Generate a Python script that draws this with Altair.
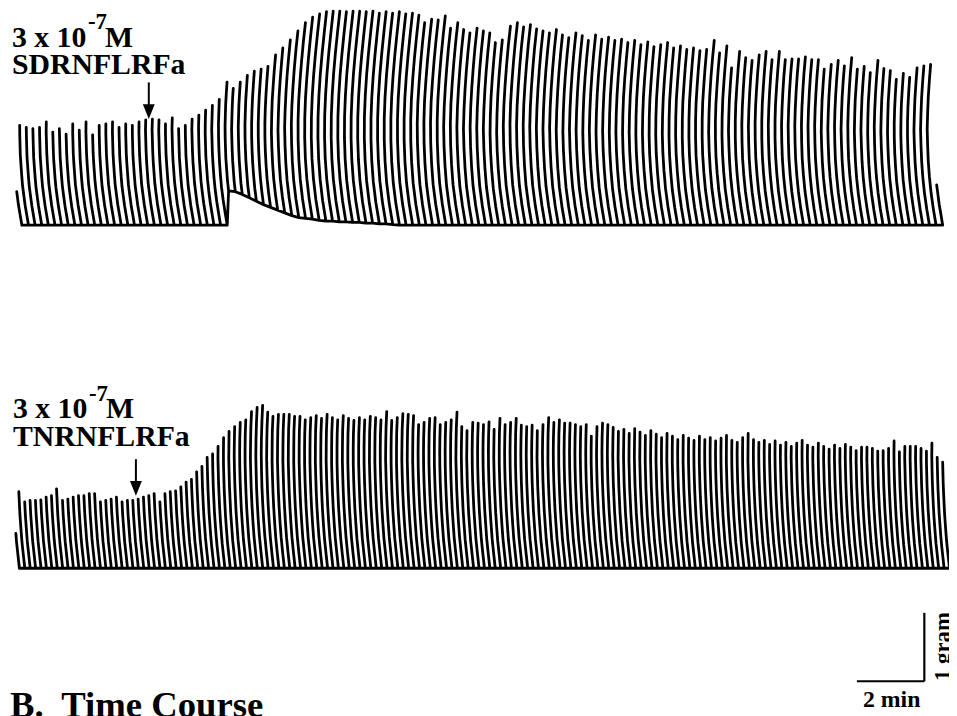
import numpy as np
import pandas as pd
import altair as alt

# ---------------- layout constants ----------------
W, H = 949, 708            # canvas (plot area) size in px
PX_PER_MIN = 34.0          # chart speed: 2 min = 68 px
PX_PER_G = 69.0            # 1 gram = 69 px
TOP_LEVEL = 7.13           # vertical placement of the upper trace (g from bottom)
BOT_LEVEL = 2.116          # vertical placement of the lower trace

# ---------------- data ----------------
# Upper trace: SDRNFLRFa, peak tension of every beat (g above resting baseline)
top_peak_g = [
    0.49, 1.46, 1.43, 1.41, 1.43, 1.51, 1.36, 1.41, 1.33, 1.48,
    1.39, 1.51, 1.32, 1.46, 1.48, 1.51, 1.43, 1.48, 1.46, 1.51,
    1.54, 1.55, 1.54, 1.48, 1.57, 1.41, 1.46, 1.55, 1.61, 1.68,
    1.75, 1.84, 2.09, 2.00, 2.09, 2.19, 2.25, 2.28, 2.32, 2.49,
    2.59, 2.71, 2.84, 2.96, 3.04, 3.09, 3.12, 3.13, 3.13, 3.12,
    3.13, 3.13, 3.12, 3.13, 3.10, 3.12, 3.10, 3.12, 3.09, 3.10,
    3.07, 2.96, 3.01, 3.00, 3.06, 2.88, 2.96, 2.86, 2.81, 2.88,
    2.84, 2.81, 2.67, 2.71, 2.91, 2.96, 2.90, 2.93, 2.87, 2.84,
    2.81, 2.86, 2.78, 2.74, 2.81, 2.77, 2.70, 2.78, 2.72, 2.75,
    2.70, 2.72, 2.67, 2.70, 2.64, 2.68, 2.61, 2.64, 2.67, 2.59,
    2.62, 2.57, 2.59, 2.55, 2.57, 2.70, 2.52, 2.62, 2.30, 2.54,
    2.45, 2.41, 2.49, 2.54, 2.42, 2.54, 2.42, 2.43, 2.43, 2.46,
    2.42, 2.42, 2.28, 2.35, 2.41, 2.33, 2.45, 2.28, 2.32, 2.23,
    2.41, 2.29, 2.26, 2.13, 2.22, 2.16, 2.30, 2.33, 2.35, 0.59,
]
# Upper trace: diastolic (baseline) tension of every beat
top_base_g = ([0.0] * 32 +
              [0.50, 0.49, 0.45, 0.40, 0.35, 0.30, 0.26, 0.22, 0.18, 0.14,
               0.11, 0.10, 0.09, 0.07, 0.06, 0.06, 0.05, 0.05, 0.04, 0.04,
               0.03, 0.03, 0.02, 0.02, 0.01] +
              [0.0] * 83)
top_first_min, top_period_min = 0.147, 0.1965

# Lower trace: TNRNFLRFa
bot_peak_g = [
    0.51, 1.12, 0.97, 0.99, 0.99, 1.00, 1.04, 1.06, 1.16, 0.99,
    1.01, 1.04, 1.06, 1.06, 1.09, 1.09, 0.97, 0.99, 1.01, 1.04,
    0.97, 0.99, 0.99, 1.01, 1.04, 1.06, 1.09, 0.97, 1.09, 1.12,
    1.13, 1.19, 1.26, 1.30, 1.41, 1.49, 1.62, 1.67, 1.78, 1.91,
    2.00, 2.07, 2.13, 2.17, 2.29, 2.35, 2.38, 2.28, 2.22, 2.25,
    2.25, 2.25, 2.22, 2.22, 2.17, 2.20, 2.23, 2.19, 2.25, 2.20,
    2.17, 2.23, 2.19, 2.16, 2.20, 2.17, 2.22, 2.20, 2.17, 2.29,
    2.16, 2.20, 2.26, 2.25, 2.23, 2.10, 2.13, 2.19, 2.20, 2.10,
    2.13, 2.17, 2.28, 2.07, 2.01, 2.13, 2.12, 2.10, 2.14, 2.03,
    2.19, 2.10, 2.13, 2.19, 2.09, 2.07, 2.09, 2.01, 2.10, 2.20,
    2.13, 2.17, 2.12, 2.12, 2.10, 2.07, 2.10, 1.93, 2.07, 2.12,
    2.10, 2.06, 2.00, 2.03, 1.97, 2.04, 1.99, 1.94, 2.01, 1.96,
    1.91, 1.97, 1.93, 1.88, 1.94, 1.90, 1.87, 1.93, 1.88, 1.91,
    1.86, 1.90, 1.94, 1.87, 1.84, 1.91, 1.97, 1.88, 1.84, 1.87,
    1.81, 1.86, 1.80, 1.84, 1.78, 1.83, 1.87, 1.80, 1.77, 1.83,
    1.78, 1.74, 1.80, 1.75, 1.81, 1.77, 1.72, 1.77, 1.77, 1.75,
    1.71, 1.72, 1.75, 1.86, 1.70, 1.78, 1.78, 1.78, 1.75, 1.71,
    1.83, 1.62, 1.55,
]
bot_base_g = [0.0] * len(bot_peak_g)
bot_first_min, bot_period_min = 0.132, 0.1604

# pen arc of the recorder (height above rest, g -> sideways offset, px)
top_arc_h = [0.0, 0.3, 0.6, 1.0, 1.4, 1.8, 2.2, 2.6, 3.2]
top_arc_px = [9.0, 5.5, 2.8, 0.8, 0.0, 0.8, 2.6, 5.0, 9.5]
bot_arc_h = [0.0, 0.4, 0.8, 1.2, 1.6, 2.0, 2.4]
bot_arc_px = [7.0, 4.0, 2.0, 0.7, 0.0, 0.3, 1.5]

# drug application (arrow) times, min
top_drug_min = 4.176
bot_drug_min = 3.794


def build(name, t0, dt, peaks, bases, arc_h, arc_px, level):
    rows = []
    k = 0
    for i, (p, b) in enumerate(zip(peaks, bases)):
        t = t0 + dt * i
        hs = np.linspace(b, p, 11)
        offs = np.interp(hs, arc_h, arc_px) / PX_PER_MIN
        pts = list(zip(hs, offs))
        path = pts + pts[::-1][1:]
        for h, o in path:
            rows.append({"trace": name, "k": k, "t": t + o, "g": level + h})
            k += 1
    return rows


rows = build("SDRNFLRFa", top_first_min, top_period_min, top_peak_g, top_base_g,
             top_arc_h, top_arc_px, TOP_LEVEL)
rows += build("TNRNFLRFa", bot_first_min, bot_period_min, bot_peak_g, bot_base_g,
              bot_arc_h, bot_arc_px, BOT_LEVEL)
df = pd.DataFrame(rows)

xs = alt.Scale(domain=[0, W / PX_PER_MIN], nice=False, zero=False)
ys = alt.Scale(domain=[0, H / PX_PER_G], nice=False, zero=False)
X = lambda f: alt.X(f, type="quantitative", scale=xs, axis=None)
Y = lambda f: alt.Y(f, type="quantitative", scale=ys, axis=None)

traces = alt.Chart(df).mark_line(
    color="black", strokeWidth=2.8, strokeJoin="round", strokeCap="round"
).encode(x=X("t"), y=Y("g"), detail="trace:N", order="k:Q")

# arrows marking drug application
arrows = pd.DataFrame({
    "t": [top_drug_min, bot_drug_min],
    "g1": [9.217, 3.710],
    "g2": [8.75, 3.24],
    "tip": [8.681, 3.174],
})
arrow_lines = alt.Chart(arrows).mark_rule(color="black", strokeWidth=2).encode(
    x=X("t"), y=Y("g1"), y2="g2")
arrow_heads = alt.Chart(arrows).mark_point(
    shape="M0,0 L-0.8,-2 L0.8,-2 Z", filled=True, color="black", opacity=1,
    size=225, strokeWidth=0
).encode(x=X("t"), y=Y("tip"))

# scale bar: 2 min x 1 gram
bar_end_t, bar_g = 27.18, 0.464
scale_h = pd.DataFrame({"t1": [bar_end_t - 2.0], "t2": [bar_end_t], "g": [bar_g]})
scale_v = pd.DataFrame({"t": [bar_end_t], "g1": [bar_g], "g2": [bar_g + 1.0]})
bar_h = alt.Chart(scale_h).mark_rule(color="black", strokeWidth=2.2).encode(
    x=X("t1"), x2="t2", y=Y("g"))
bar_v = alt.Chart(scale_v).mark_rule(color="black", strokeWidth=2.2).encode(
    x=X("t"), y=Y("g1"), y2="g2")

FONT = "Liberation Serif"
labels_left = pd.DataFrame({
    "text": ["3 x 10", "-7", "M", "SDRNFLRFa",
             "3 x 10", "-7", "M", "TNRNFLRFa",
             "B.\u00a0 Time Course"],
    "t": [0.118, 2.37, 2.88, 0.118,
          0.147, 2.40, 2.91, 0.147,
          0.059],
    "g": [9.74, 10.0, 9.74, 9.335,
          4.305, 4.56, 4.305, 3.90,
          -0.051],
    "size": [30, 23, 30, 30, 30, 23, 30, 30, 37],
})
txt_left = alt.Chart(labels_left).mark_text(
    align="left", baseline="alphabetic", font=FONT, fontWeight="bold", color="black"
).encode(x=X("t"), y=Y("g"), text="text:N", size=alt.Size("size:Q", scale=None))

lab_min = pd.DataFrame({"text": ["2 min"], "t": [bar_end_t - 0.97], "g": [0.087]})
txt_min = alt.Chart(lab_min).mark_text(
    align="center", baseline="alphabetic", font=FONT, fontWeight="bold",
    color="black", fontSize=24
).encode(x=X("t"), y=Y("g"), text="text:N")

lab_gram = pd.DataFrame({"text": ["1 gram"], "t": [27.93], "g": [0.971]})
txt_gram = alt.Chart(lab_gram).mark_text(
    align="center", baseline="alphabetic", font=FONT, fontWeight="bold",
    color="black", fontSize=23, angle=270
).encode(x=X("t"), y=Y("g"), text="text:N")

chart = alt.layer(
    traces, arrow_lines, arrow_heads, bar_h, bar_v, txt_left, txt_min, txt_gram
).properties(
    width=W, height=H, padding=0,
    autosize=alt.AutoSizeParams(type="none"),
    background="white",
).configure_view(stroke=None)

chart.save("out.html", embed_options={"renderer": "svg", "actions": False})
